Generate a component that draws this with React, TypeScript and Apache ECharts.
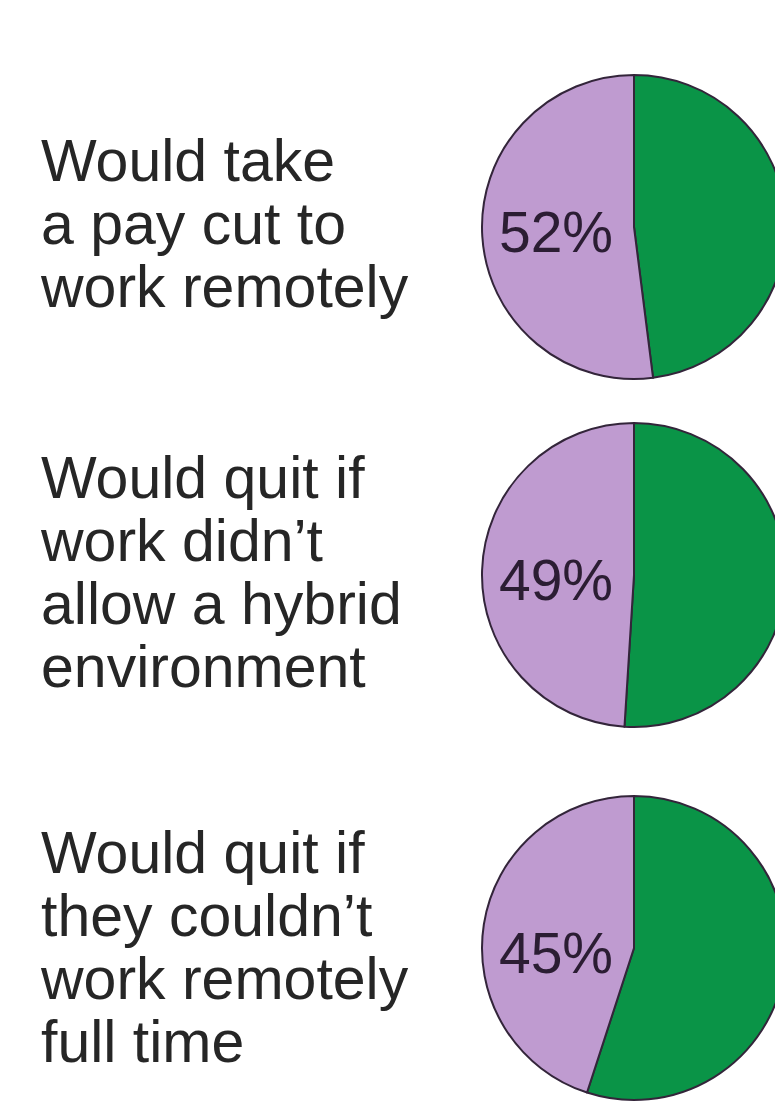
import React, { useEffect, useRef } from "react";
import * as echarts from "echarts";

const questions: string[] = [
  "Would take\na pay cut to\nwork remotely",
  "Would quit if\nwork didn’t\nallow a hybrid\nenvironment",
  "Would quit if\nthey couldn’t\nwork remotely\nfull time",
];
const yesShares: number[] = [52, 49, 45];

const PURPLE = "#BF9BD0";
const GREEN = "#0A9447";
const EDGE = "#33253A";

const pieCenters: [number, number][] = [
  [634, 227],
  [634, 575],
  [634, 948],
];
const textCenters: number[] = [224, 572, 947];

export default function App() {
  const ref = useRef<HTMLDivElement>(null);
  useEffect(() => {
    if (!ref.current) return;
    const chart = echarts.init(ref.current, undefined, { renderer: "svg" });
    const series = yesShares.map((v, i) => ({
      type: "pie",
      center: pieCenters[i],
      radius: 152,
      startAngle: 90,
      clockwise: true,
      silent: true,
      label: { show: false },
      labelLine: { show: false },
      itemStyle: { borderColor: EDGE, borderWidth: 2 },
      data: [
        { name: "No", value: 100 - v, itemStyle: { color: GREEN } },
        { name: "Yes", value: v, itemStyle: { color: PURPLE } },
      ],
    }));
    const graphics: any[] = [];
    questions.forEach((q, i) => {
      graphics.push({
        type: "text",
        left: 41,
        top: textCenters[i] - (q.split("\n").length * 63) / 2,
        z: 100,
        style: {
          text: q,
          font: '59px "Liberation Sans", Arial, sans-serif',
          fill: "#262626",
          lineHeight: 63,
        },
      });
      graphics.push({
        type: "text",
        x: pieCenters[i][0] - 78,
        y: pieCenters[i][1] + 5,
        z: 100,
        zlevel: 0,
        style: {
          text: `${yesShares[i]}%`,
          font: '57px "Liberation Sans", Arial, sans-serif',
          fill: "#2B1D33",
          align: "center",
          verticalAlign: "middle",
        },
      });
    });
    chart.setOption({
      animation: false,
      backgroundColor: "#ffffff",
      series,
      graphic: { elements: graphics },
    });
    return () => chart.dispose();
  }, []);
  return (
    <div
      ref={ref}
      style={{ position: "absolute", left: 0, top: 0, width: 775, height: 1102 }}
    />
  );
}
